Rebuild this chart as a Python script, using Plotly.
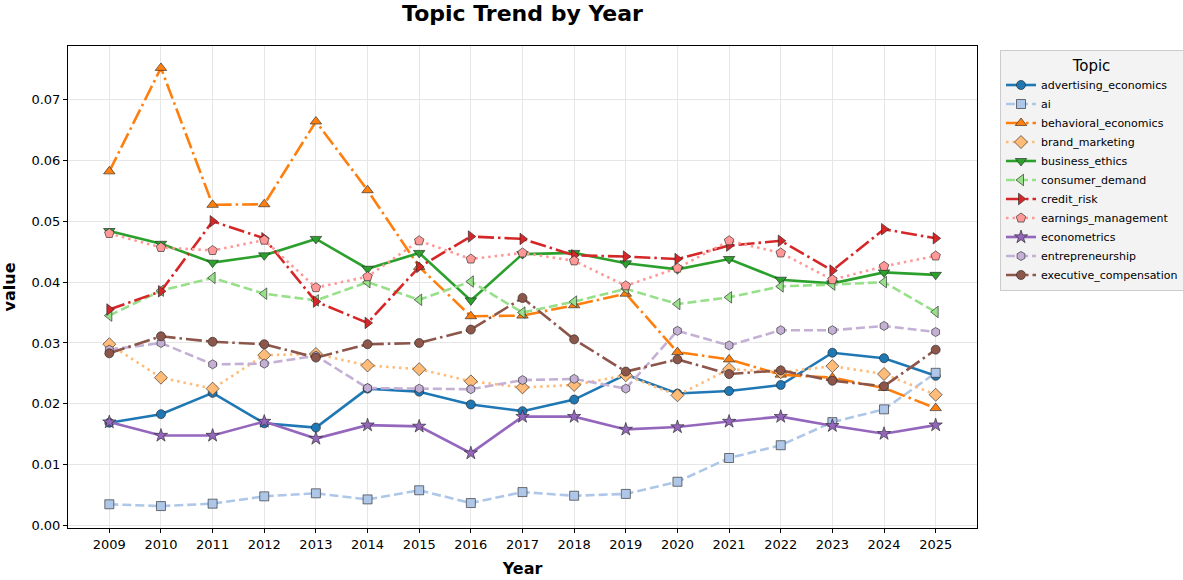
import plotly.graph_objects as go

years = list(range(2009, 2026))

advertising_economics = [0.0169, 0.0183, 0.0218, 0.0168, 0.0161, 0.0225, 0.0220, 0.0199, 0.0188, 0.0207, 0.0248, 0.0217, 0.0221, 0.0231, 0.0284, 0.0275, 0.0246]
ai = [0.0035, 0.0032, 0.0036, 0.0048, 0.0053, 0.0043, 0.0058, 0.0037, 0.0055, 0.0049, 0.0052, 0.0072, 0.0111, 0.0132, 0.0170, 0.0191, 0.0251]
behavioral_economics = [0.0582, 0.0752, 0.0527, 0.0528, 0.0664, 0.0551, 0.0425, 0.0344, 0.0345, 0.0362, 0.0381, 0.0285, 0.0273, 0.0248, 0.0243, 0.0226, 0.0193]
brand_marketing = [0.0298, 0.0243, 0.0225, 0.0280, 0.0282, 0.0263, 0.0257, 0.0237, 0.0227, 0.0231, 0.0247, 0.0214, 0.0257, 0.0252, 0.0262, 0.0249, 0.0215]
business_ethics = [0.0484, 0.0463, 0.0432, 0.0444, 0.0471, 0.0422, 0.0448, 0.0370, 0.0446, 0.0448, 0.0431, 0.0421, 0.0438, 0.0404, 0.0398, 0.0416, 0.0412]
consumer_demand = [0.0345, 0.0386, 0.0407, 0.0381, 0.0370, 0.0400, 0.0371, 0.0401, 0.0350, 0.0368, 0.0389, 0.0364, 0.0375, 0.0393, 0.0396, 0.0400, 0.0351]
credit_risk = [0.0355, 0.0385, 0.0500, 0.0472, 0.0368, 0.0333, 0.0425, 0.0475, 0.0471, 0.0444, 0.0442, 0.0438, 0.0460, 0.0468, 0.0419, 0.0487, 0.0472]
earnings_management = [0.0480, 0.0457, 0.0452, 0.0469, 0.0391, 0.0409, 0.0468, 0.0438, 0.0448, 0.0435, 0.0394, 0.0423, 0.0468, 0.0448, 0.0404, 0.0426, 0.0443]
econometrics = [0.0170, 0.0148, 0.0148, 0.0171, 0.0143, 0.0165, 0.0163, 0.0119, 0.0179, 0.0179, 0.0158, 0.0162, 0.0171, 0.0179, 0.0164, 0.0151, 0.0165]
entrepreneurship = [0.0289, 0.0300, 0.0265, 0.0266, 0.0279, 0.0226, 0.0225, 0.0224, 0.0239, 0.0241, 0.0225, 0.0320, 0.0296, 0.0321, 0.0321, 0.0328, 0.0318]
executive_compensation = [0.0283, 0.0311, 0.0302, 0.0298, 0.0276, 0.0298, 0.0300, 0.0322, 0.0374, 0.0306, 0.0253, 0.0273, 0.0249, 0.0255, 0.0238, 0.0229, 0.0289]

topics = ["advertising_economics", "ai", "behavioral_economics", "brand_marketing", "business_ethics",
          "consumer_demand", "credit_risk", "earnings_management", "econometrics", "entrepreneurship",
          "executive_compensation"]
series = [advertising_economics, ai, behavioral_economics, brand_marketing, business_ethics,
          consumer_demand, credit_risk, earnings_management, econometrics, entrepreneurship,
          executive_compensation]
colors = ["#1f77b4", "#aec7e8", "#ff7f0e", "#ffbb78", "#2ca02c", "#98df8a", "#d62728", "#ff9896",
          "#9467bd", "#c5b0d5", "#8c564b"]
symbols = ["circle", "square", "triangle-up", "diamond", "triangle-down", "triangle-left",
           "triangle-right", "pentagon", "star", "hexagon", "circle"]
sizes = [9, 9, 10, 10, 10, 10, 10, 10, 10, 9, 9]
dash_cycle = ["solid", "9px,4px", "16px,4px,2.5px,4px", "2.5px,4px"]

fig = go.Figure()
for i, (name, vals) in enumerate(zip(topics, series)):
    fig.add_trace(go.Scatter(
        x=years, y=vals, name=name, mode="lines+markers",
        line=dict(color=colors[i], width=2.6, dash=dash_cycle[i % 4]),
        marker=dict(symbol=symbols[i], size=sizes[i], color=colors[i],
                    line=dict(color="rgba(40,40,40,0.8)", width=0.8)),
    ))

font_family = "DejaVu Sans"
fig.update_layout(
    width=1183, height=580,
    paper_bgcolor="white", plot_bgcolor="white",
    font=dict(family=font_family, size=13, color="black"),
    margin=dict(l=68, r=206, t=46, b=52, autoexpand=False),
    title=dict(text="<b>Topic Trend by Year</b>", x=(68 + 977) / 2 / 1183, xanchor="center",
               y=1 - 13 / 580, yanchor="middle", font=dict(size=22, family=font_family)),
    xaxis=dict(
        range=[2008.2, 2025.8], tickmode="array", tickvals=years, ticktext=[str(y) for y in years],
        showline=True, mirror=True, linecolor="black", linewidth=1,
        ticks="outside", ticklen=4, tickcolor="black", automargin=False,
        showgrid=True, gridcolor="#e6e6e6", gridwidth=1, zeroline=False,
        title=dict(text="<b>Year</b>", font=dict(size=16), standoff=12),
    ),
    yaxis=dict(
        range=[-0.0004, 0.0788], tickmode="array",
        tickvals=[0, 0.01, 0.02, 0.03, 0.04, 0.05, 0.06, 0.07],
        ticktext=["0.00", "0.01", "0.02", "0.03", "0.04", "0.05", "0.06", "0.07"],
        showline=True, mirror=True, linecolor="black", linewidth=1,
        ticks="outside", ticklen=4, tickcolor="black", automargin=False,
        showgrid=True, gridcolor="#e6e6e6", gridwidth=1, zeroline=False,
        title=dict(text="<b>value</b>", font=dict(size=16), standoff=14),
    ),
    legend=dict(
        x=(1000 - 68) / 909, y=(528 - 50) / 482, xanchor="left", yanchor="top",
        bgcolor="#f3f3f3", bordercolor="#cccccc", borderwidth=1,
        font=dict(size=11, family=font_family),
        title=dict(text="Topic", side="top center", font=dict(size=15)),
        tracegroupgap=0, itemwidth=30,
    ),
)

fig.write_html("out.html", config={"displayModeBar": False},
               post_script="document.body.style.margin='0';document.body.style.overflow='hidden';")
